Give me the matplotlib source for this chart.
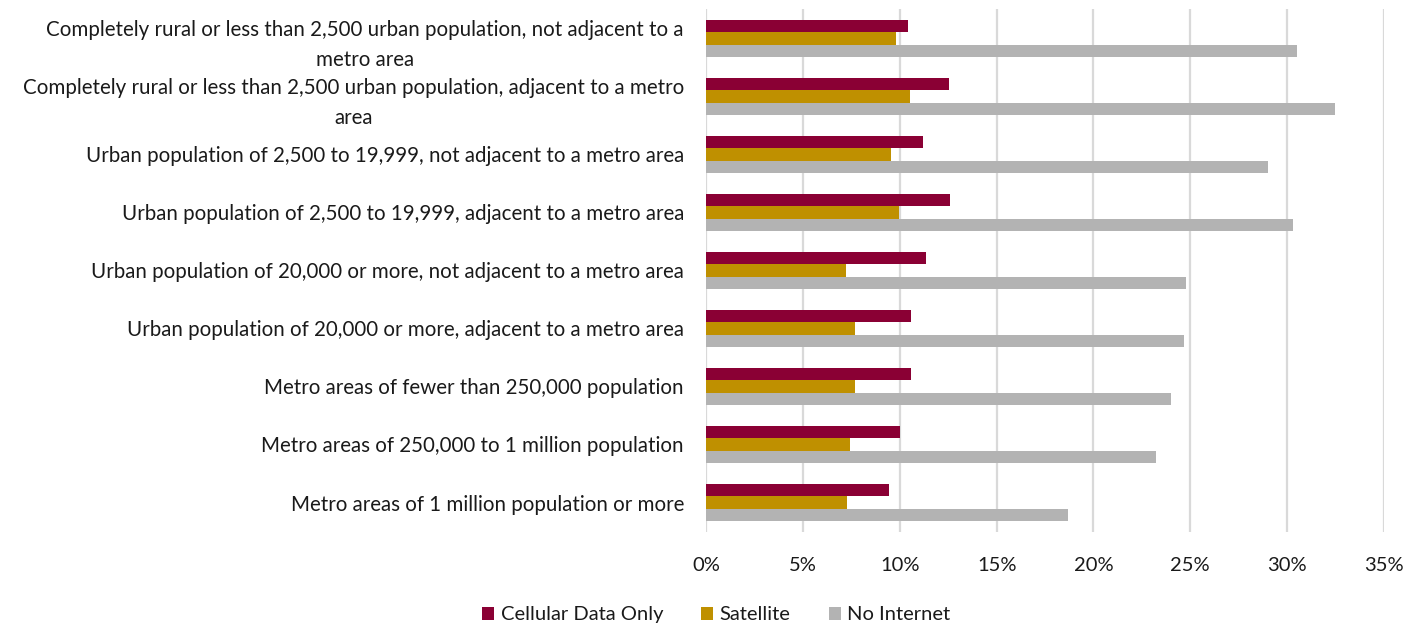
import matplotlib

matplotlib.use("Agg")
import matplotlib.pyplot as plt
import numpy as np
from matplotlib.ticker import PercentFormatter

plt.rcParams["font.family"] = ["Lato", "DejaVu Sans"]

categories = [
    "Completely rural or less than 2,500 urban population, not adjacent to a\nmetro area",
    "Completely rural or less than 2,500 urban population, adjacent to a metro\narea",
    "Urban population of 2,500 to 19,999, not adjacent to a metro area",
    "Urban population of 2,500 to 19,999, adjacent to a metro area",
    "Urban population of 20,000 or more, not adjacent to a metro area",
    "Urban population of 20,000 or more, adjacent to a metro area",
    "Metro areas of fewer than 250,000 population",
    "Metro areas of 250,000 to 1 million population",
    "Metro areas of 1 million population or more",
]
cellular = [10.4, 12.55, 11.2, 12.6, 11.35, 10.6, 10.6, 10.0, 9.45]
satellite = [9.8, 10.55, 9.55, 9.95, 7.2, 7.7, 7.7, 7.45, 7.25]
no_internet = [30.5, 32.45, 29.0, 30.3, 24.8, 24.65, 24.0, 23.25, 18.7]

series = [
    ("Cellular Data Only", cellular, "#8a0034"),
    ("Satellite", satellite, "#bf9000"),
    ("No Internet", no_internet, "#b3b3b3"),
]

fig = plt.figure(figsize=(14.18, 6.29), dpi=100)
ax = fig.add_axes([0.498, 0.155, 0.478, 0.83])

y = np.arange(len(categories))
h = 0.21
for i, (name, vals, col) in enumerate(series):
    ax.barh(y + (i - 1) * h, vals, height=h, color=col, label=name, zorder=3)

ax.set_xlim(0, 35)
ax.set_ylim(len(categories) - 0.5, -0.5)
ax.set_xticks(np.arange(0, 36, 5))
ax.xaxis.set_major_formatter(PercentFormatter(decimals=0))
ax.set_yticks(y)
ax.set_yticklabels(categories, fontsize=14.8, color="#1a1a1a",
                   multialignment="center", linespacing=1.6)
ax.tick_params(axis="x", labelsize=14.5, colors="#1a1a1a", length=0, pad=18)
ax.tick_params(axis="y", length=0, pad=16)
ax.grid(axis="x", color="#d9d9d9", lw=1.6, zorder=0)
for s in ax.spines.values():
    s.set_visible(False)

fig.legend(loc="lower center", bbox_to_anchor=(0.505, -0.02), ncol=3, frameon=False,
           fontsize=14.5, handlelength=0.6, handleheight=0.6, handletextpad=0.3,
           columnspacing=1.9, labelcolor="#1a1a1a")

fig.savefig("out.png", dpi=100)
